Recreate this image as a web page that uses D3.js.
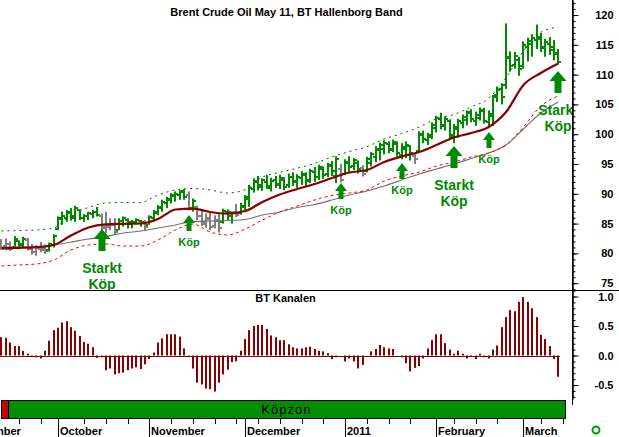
<!DOCTYPE html>
<html lang="sv">
<head>
<meta charset="utf-8">
<style>
body { margin: 0; background: #fff; }
svg { display: block; font-family: "Liberation Sans", Arial, sans-serif; }
</style>
</head>
<body>
<script src="https://d3js.org/d3.v7.min.js"></script>
<script>
// first trading day shown
const firstDay = "2010-09-14";

// daily OHLC, Brent May 11
const highs = [
82.4,82.5,82.0,82.9,82.2,82.8,82.6,81.6,81.4,81.9,
81.5,81.8,83.2,86.2,87.0,87.3,87.6,88.0,87.4,86.6,
87.0,87.3,87.8,86.7,87.0,85.9,85.9,85.9,86.2,85.9,
85.6,85.9,85.6,85.6,86.4,87.3,88.1,89.0,89.5,90.1,
90.4,90.6,90.8,90.4,89.2,88.0,87.3,86.7,87.0,86.4,
86.7,87.5,87.4,87.0,88.3,88.5,89.8,91.5,92.6,93.0,
92.6,93.2,92.7,93.0,93.2,92.8,93.4,93.6,93.3,93.8,
93.6,94.2,94.5,94.9,94.6,95.2,95.5,96.3,95.0,95.8,
96.3,96.0,95.6,94.8,96.2,97.0,98.0,98.6,99.0,98.8,
99.1,98.8,98.5,98.8,98.2,96.8,100.5,100.6,100.2,102.0,
103.1,103.6,103.0,102.5,101.7,102.6,103.3,104.0,104.2,103.8,
104.5,104.4,104.0,106.6,108.0,108.5,118.6,113.9,113.8,113.0,
115.6,116.2,116.8,118.4,117.0,116.0,116.3,115.8,114.3];
const lows = [
80.6,80.5,80.4,80.9,80.7,81.0,80.5,79.8,79.6,80.2,
79.9,80.3,81.0,83.9,84.8,85.3,85.5,85.3,85.6,85.3,
85.6,85.9,86.2,83.9,83.4,83.9,83.1,83.9,84.5,84.2,
84.2,84.8,84.5,83.9,84.8,85.6,86.4,87.0,87.6,88.4,
88.7,89.0,89.0,87.2,87.0,85.6,84.6,84.3,83.9,84.2,
83.5,85.0,85.6,85.0,86.1,86.5,87.3,87.8,90.2,90.6,
90.5,90.8,90.4,91.0,90.8,90.6,91.0,91.3,91.0,91.5,
91.2,91.8,92.0,92.3,92.5,92.8,93.0,91.8,91.9,93.2,
93.7,94.0,93.4,92.9,93.6,94.6,95.3,95.6,96.6,96.8,
97.0,96.2,95.8,96.0,95.6,95.0,97.0,98.5,98.2,99.2,
100.3,100.8,100.6,99.0,98.5,99.4,101.0,101.5,102.0,101.4,
102.3,101.8,101.0,101.4,105.4,105.0,107.6,110.5,111.0,109.8,
111.0,112.2,113.0,114.3,113.8,113.0,113.3,112.4,111.8];
const opens = [
81.6,81.2,81.5,81.0,82.0,81.4,82.3,80.9,80.2,80.8,
80.9,80.5,81.4,84.1,85.8,86.0,86.8,86.2,87.2,86.0,
86.2,86.6,87.0,86.3,84.5,84.4,84.8,84.0,85.4,85.6,
85.0,85.2,85.4,85.1,84.8,85.9,86.8,87.6,88.5,88.9,
89.6,89.8,90.4,89.8,87.6,87.8,86.3,85.0,85.9,84.6,
85.5,85.2,86.9,86.2,87.0,86.8,87.8,89.2,90.8,92.0,
91.2,92.0,91.0,92.3,91.5,92.4,91.5,92.8,92.2,92.6,
93.1,92.3,93.6,92.9,94.2,93.3,94.7,93.0,94.2,93.4,
95.2,94.6,95.2,94.3,93.8,95.2,96.2,97.4,97.6,98.4,
97.5,98.4,96.5,97.6,98.0,96.4,97.2,99.8,99.0,99.6,
101.0,102.5,101.5,102.2,99.6,100.8,101.8,102.4,103.8,102.2,
102.8,103.9,102.0,103.0,106.5,107.6,108.2,112.8,111.6,112.5,
111.4,114.6,115.2,115.8,116.3,114.4,115.2,114.6,113.6];
const closes = [
80.8,80.7,80.8,82.4,81.5,82.5,80.8,80.3,80.9,80.6,
80.4,81.5,82.9,86.0,86.3,86.9,86.0,87.6,86.0,86.3,
86.8,87.0,86.5,84.3,84.6,84.7,83.6,85.5,85.9,85.2,
85.3,85.6,85.2,84.4,86.1,87.0,87.8,88.6,89.1,89.8,
90.0,90.3,89.5,87.4,88.8,86.2,85.2,85.8,84.5,85.6,
84.2,87.1,87.0,86.95,86.5,88.0,89.4,91.0,92.2,91.4,
92.3,91.3,92.2,91.6,92.6,91.2,92.9,92.0,92.9,93.4,
92.2,93.8,92.8,94.5,93.2,94.8,93.9,95.8,92.4,95.4,
94.5,95.6,94.2,93.4,95.9,96.7,97.6,98.2,98.6,97.4,
98.7,96.8,97.9,98.2,96.8,95.8,100.1,99.2,99.9,101.6,
102.7,101.4,102.6,99.8,101.2,102.2,102.9,103.5,102.6,103.2,
104.0,102.3,103.4,106.2,107.4,106.2,113.0,111.4,113.2,111.0,
115.0,115.6,116.2,115.9,114.6,115.4,114.2,113.4,112.2];

// BT Kanalen oscillator
const kanal = [
0.31,0.30,0.22,0.16,0.16,0.08,0.03,0.01,-0.03,-0.05,
0.08,0.25,0.43,0.47,0.56,0.58,0.48,0.42,0.33,0.23,
0.20,0.14,-0.04,-0.03,-0.25,-0.22,-0.32,-0.30,-0.29,-0.25,
-0.22,-0.20,-0.23,-0.15,-0.06,0.05,0.22,0.29,0.36,0.36,
0.36,0.32,0.12,-0.01,-0.22,-0.46,-0.49,-0.56,-0.57,-0.61,
-0.46,-0.32,-0.24,-0.11,-0.10,0.08,0.28,0.43,0.50,0.52,
0.52,0.45,0.34,0.31,0.26,0.26,0.19,0.14,0.12,0.12,
0.14,0.15,0.11,0.08,0.07,0.04,-0.06,-0.03,0.00,-0.10,
-0.05,-0.10,-0.22,-0.16,0.00,0.07,0.11,0.18,0.14,0.12,
0.11,0.00,-0.03,-0.13,-0.27,-0.21,-0.18,-0.05,0.12,0.26,
0.36,0.36,0.21,0.10,0.03,0.08,0.03,-0.05,0.01,-0.06,
0.03,-0.03,-0.05,0.10,0.17,0.48,0.65,0.77,0.75,0.91,
0.99,0.91,0.80,0.65,0.35,0.28,0.16,-0.06,-0.36];

// Hallenborg band, read every fourth day
const bandIdx = [0,4,8,12,16,20,24,28,32,36,40,44,48,52,56,60,64,68,72,76,80,84,88,92,96,100,104,108,112,116,120,124,128];
const midLine = [80.87,80.94,81.04,81.41,83.0,84.35,84.88,84.97,85.02,85.77,87.37,87.53,86.95,86.69,87.11,88.62,89.88,90.81,91.64,92.65,93.57,93.99,95.33,96.26,97.01,98.19,99.45,100.2,101.21,103.72,108.26,110.27,111.86];
const slowLine = [81.07,81.07,81.07,81.41,81.91,82.42,82.84,83.42,83.76,84.26,84.77,85.35,85.44,85.52,85.69,86.44,86.95,87.70,88.20,88.96,89.80,90.47,91.31,92.32,93.32,94.16,95.0,95.92,96.85,98.19,100.87,103.56,105.40];
const upperBand = [83.76,83.84,83.93,84.26,86.44,87.70,88.46,88.54,88.54,89.80,90.64,90.89,90.64,90.13,90.7,92.8,93.6,94.3,95.1,96.2,97.1,97.9,99.2,100.1,101.2,102.6,103.3,104.6,106.0,109.5,114.0,117.1,118.0];
const lowerBand = [77.89,78.06,78.22,78.89,80.57,81.41,81.58,81.24,81.24,82.25,83.93,84.93,83.59,83.09,84.09,85.60,86.95,87.95,88.96,89.72,90.13,90.64,92.15,92.99,93.66,94.66,95.33,96.17,96.85,98.19,101.21,104.73,106.41];

// buy signals
const signalIdx = [23, 43, 78, 92, 104, 112, 128];
const signalPrice = [84.1, 86.4, 91.8, 95.2, 98.0, 100.4, 110.6];
const signalText = ["Starkt Köp", "Köp", "Köp", "Köp", "Starkt Köp", "Köp", "Starkt Köp"];

// zone strip
const zoneFrom = [-0.1, 1.5];
const zoneTo = [1.5, 129.5];
const zoneText = ["", "Köpzon"];

const priceTicks = [75, 80, 85, 90, 95, 100, 105, 110, 115, 120];
const kanalTicks = [-0.5, 0.0, 0.5, 1.0];

const green = "#008a00", gray = "#808080", darkRed = "#880000";
const W = 619, H = 437, right = 572;

const svg = d3.select("body").append("svg").attr("width", W).attr("height", H);

const x = d3.scaleLinear().domain([0, 128]).range([1.45, 558.25]);
const y = d3.scaleLinear().domain([73.86, 122.52]).range([290, 0]);
const yk = d3.scaleLinear().domain([-0.737, 1.11]).range([399, 290]);
const midAt = d3.scaleLinear().domain(bandIdx).range(midLine);

const defs = svg.append("defs");
defs.append("clipPath").attr("id", "cPrice").append("rect").attr("x", 0).attr("y", 0).attr("width", right).attr("height", 290);
defs.append("clipPath").attr("id", "cKanal").append("rect").attr("x", 0).attr("y", 290).attr("width", right).attr("height", 110);
defs.append("clipPath").attr("id", "cTime").append("rect").attr("x", 0).attr("y", 400).attr("width", right).attr("height", 37);

// ---- price panel
const gp = svg.append("g").attr("clip-path", "url(#cPrice)");
const idx = d3.range(highs.length);

const bar = gp.selectAll("g.bar").data(idx).join("g")
  .attr("class", "bar")
  .attr("fill", i => closes[i] >= midAt(i) ? green : gray);
bar.append("rect")
  .attr("x", i => Math.round(x(i)) - 1).attr("width", 2)
  .attr("y", i => y(highs[i])).attr("height", i => y(lows[i]) - y(highs[i]));
bar.append("rect")
  .attr("x", i => Math.round(x(i)) - 3).attr("width", 2)
  .attr("y", i => Math.round(y(opens[i])) - 1).attr("height", 2);
bar.append("rect")
  .attr("x", i => Math.round(x(i)) + 1).attr("width", 2)
  .attr("y", i => Math.round(y(closes[i])) - 1).attr("height", 2);

const bandLine = d3.line()
  .x((d, k) => x(bandIdx[k]))
  .y(d => y(d))
  .curve(d3.curveMonotoneX);

gp.append("path").attr("d", bandLine(slowLine))
  .attr("fill", "none").attr("stroke", "#707070").attr("stroke-width", 1.1);
gp.append("path").attr("d", bandLine(upperBand))
  .attr("fill", "none").attr("stroke", "#006400").attr("stroke-width", 1).attr("stroke-dasharray", "2,4");
gp.append("path").attr("d", bandLine(lowerBand))
  .attr("fill", "none").attr("stroke", "#ff0000").attr("stroke-width", 1).attr("stroke-dasharray", "3,3");
gp.append("path").attr("d", bandLine(midLine))
  .attr("fill", "none").attr("stroke", darkRed).attr("stroke-width", 2.2);

// arrows + labels
const bigArrow = [[0,0],[8.5,10],[3.5,10],[3.5,22],[-3.5,22],[-3.5,10],[-8.5,10]];
const smallArrow = [[0,0],[6,8],[2.5,8],[2.5,16],[-2.5,16],[-2.5,8],[-6,8]];
signalIdx.forEach((si, k) => {
  const cx = Math.round(x(si)), ty = Math.round(y(signalPrice[k]));
  const strong = signalText[k].startsWith("Starkt");
  const shape = strong ? bigArrow : smallArrow;
  gp.append("path")
    .attr("d", "M" + shape.map(p => (cx + p[0]) + "," + (ty + p[1])).join("L") + "Z")
    .attr("fill", green);
  if (strong) {
    const words = signalText[k].split(" ");
    gp.append("text").attr("x", cx).attr("y", ty + 44).text(words[0])
      .attr("text-anchor", "middle").attr("font-size", 14).attr("font-weight", "bold").attr("fill", green);
    gp.append("text").attr("x", cx).attr("y", ty + 60).text(words[1])
      .attr("text-anchor", "middle").attr("font-size", 14).attr("font-weight", "bold").attr("fill", green);
  } else {
    gp.append("text").attr("x", cx).attr("y", ty + 31).text(signalText[k])
      .attr("text-anchor", "middle").attr("font-size", 11).attr("font-weight", "bold").attr("fill", green);
  }
});

svg.append("text").attr("x", 286.5).attr("y", 16)
  .attr("text-anchor", "middle").attr("font-size", 11).attr("font-weight", "bold")
  .text("Brent Crude Oil May 11, BT Hallenborg Band");

// ---- BT Kanalen panel
const gk = svg.append("g").attr("clip-path", "url(#cKanal)");
gk.append("line").attr("x1", 0).attr("x2", Math.round(x(128)) + 2)
  .attr("y1", Math.round(yk(0)) + 0.5).attr("y2", Math.round(yk(0)) + 0.5)
  .attr("stroke", darkRed).attr("stroke-width", 1);
gk.selectAll("rect.k").data(idx).join("rect").attr("class", "k")
  .attr("x", i => Math.round(x(i)) - 1).attr("width", 2)
  .attr("y", i => Math.min(yk(kanal[i]), yk(0)))
  .attr("height", i => Math.abs(yk(kanal[i]) - yk(0)))
  .attr("fill", darkRed);

svg.append("text").attr("x", 285.5).attr("y", 302)
  .attr("text-anchor", "middle").attr("font-size", 11).attr("font-weight", "bold")
  .text("BT Kanalen");

// panel divider
svg.append("line").attr("x1", 0).attr("x2", W).attr("y1", 290.5).attr("y2", 290.5)
  .attr("stroke", "#000");

// ---- right axes
function styleAxis(g) {
  g.attr("font-family", null).attr("font-size", null);
  g.selectAll("text").attr("text-anchor", "end").attr("x", 41)
    .attr("font-size", 11).attr("font-weight", "bold");
}
svg.append("g").attr("transform", `translate(${right + 0.5},0)`)
  .call(d3.axisRight(y).tickValues(d3.range(74, 123)).tickSize(3).tickSizeOuter(0).tickFormat(""));
svg.append("g").attr("transform", `translate(${right + 0.5},0)`)
  .call(d3.axisRight(y).tickValues(priceTicks).tickSize(6).tickSizeOuter(0).tickFormat(d3.format("d")))
  .call(styleAxis);
svg.append("g").attr("transform", `translate(${right + 0.5},0)`)
  .call(d3.axisRight(yk).tickValues(d3.range(-7, 12).map(v => v / 10)).tickSize(3).tickSizeOuter(0).tickFormat(""));
svg.append("g").attr("transform", `translate(${right + 0.5},0)`)
  .call(d3.axisRight(yk).tickValues(kanalTicks).tickSize(6).tickSizeOuter(0).tickFormat(v => v.toFixed(1)))
  .call(styleAxis);
svg.append("line").attr("x1", right + 0.5).attr("x2", right + 0.5).attr("y1", 0).attr("y2", 405)
  .attr("stroke", "#000");

// ---- zone strip
zoneFrom.forEach((f, k) => {
  svg.append("rect").attr("x", Math.round(x(f)) + 0.5).attr("y", 400.5)
    .attr("width", Math.round(x(zoneTo[k])) - Math.round(x(f))).attr("height", 18)
    .attr("fill", zoneText[k] ? "#008f00" : "#cc0000").attr("stroke", "#000");
  if (zoneText[k]) {
    svg.append("text").attr("x", (x(f) + x(zoneTo[k])) / 2).attr("y", 414)
      .attr("text-anchor", "middle").attr("font-size", 13).attr("letter-spacing", 1)
      .text(zoneText[k]);
  }
});

// ---- time axis (trading days)
const parse = d3.timeParse("%Y-%m-%d");
const start = parse(firstDay);
function bizDay(i) {
  let d = start, n = 0;
  const s = i < 0 ? -1 : 1;
  while (n !== i) { d = d3.timeDay.offset(d, s); if (d.getDay() % 6) n += s; }
  return d;
}
const axisDays = d3.range(-12, 135).map(i => ({ i, d: bizDay(i) }));
const monthStarts = axisDays.filter((o, k) => k > 0 && o.d.getMonth() !== axisDays[k - 1].d.getMonth());
const mondays = axisDays.filter(o => o.d.getDay() === 1 &&
  !monthStarts.some(m => Math.abs(m.i - o.i) <= 1));

const gt = svg.append("g").attr("clip-path", "url(#cTime)");
gt.selectAll("line.minor").data(mondays).join("line").attr("class", "minor")
  .attr("x1", o => Math.round(x(o.i)) + 0.5).attr("x2", o => Math.round(x(o.i)) + 0.5)
  .attr("y1", 419).attr("y2", 424).attr("stroke", "#000");
gt.selectAll("line.month").data(monthStarts).join("line").attr("class", "month")
  .attr("x1", o => Math.round(x(o.i)) + 0.5).attr("x2", o => Math.round(x(o.i)) + 0.5)
  .attr("y1", 419).attr("y2", 437).attr("stroke", "#000");
gt.selectAll("text.month").data(monthStarts).join("text").attr("class", "month")
  .attr("x", o => Math.round(x(o.i)) + 2).attr("y", 435)
  .attr("font-size", 11).attr("font-weight", "bold")
  .text(o => o.d.getMonth() === 0 ? d3.timeFormat("%Y")(o.d) : d3.timeFormat("%B")(o.d));

svg.append("circle").attr("cx", 596).attr("cy", 430).attr("r", 3.5)
  .attr("fill", "#fff").attr("stroke", "#00a000").attr("stroke-width", 2);
</script>
</body>
</html>
